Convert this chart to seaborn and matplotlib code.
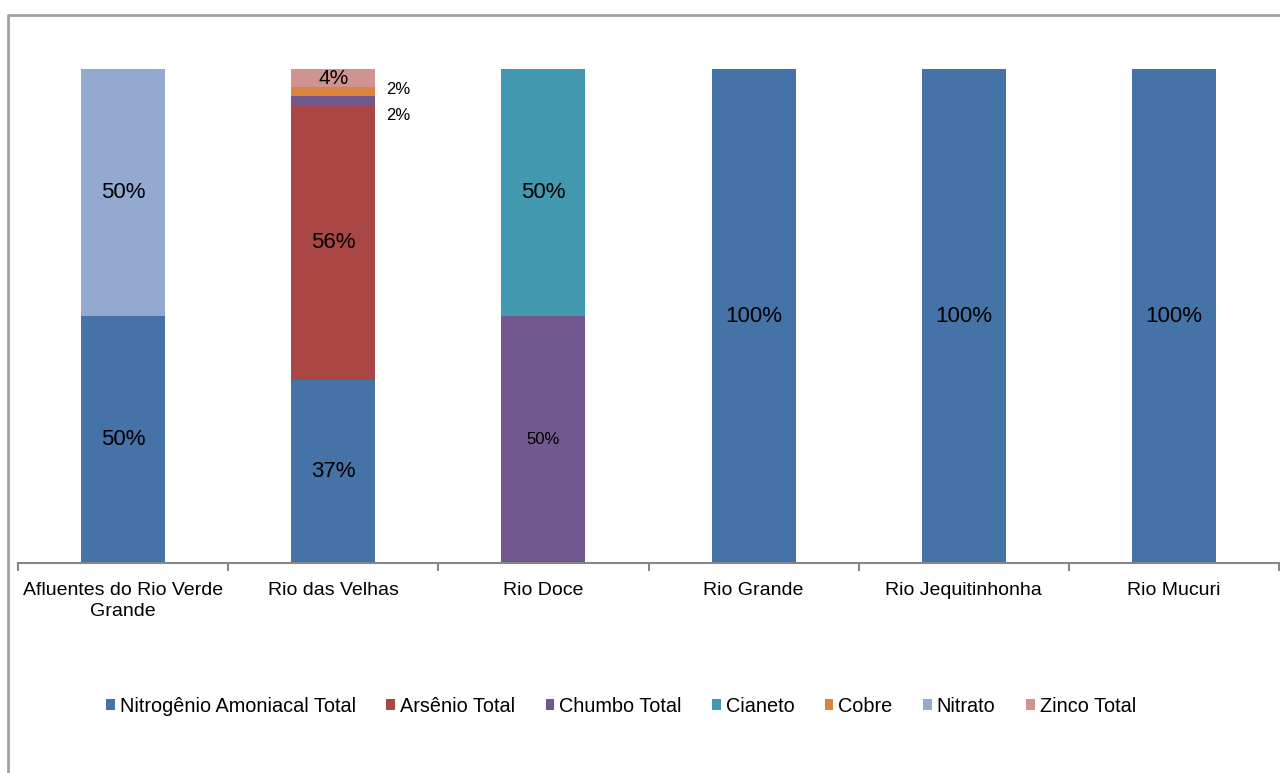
import matplotlib
matplotlib.use("Agg")
import matplotlib.pyplot as plt
from matplotlib.patches import Patch
from matplotlib.lines import Line2D
import numpy as np
import pandas as pd
import seaborn as sns

categories = ["Afluentes do Rio Verde\nGrande", "Rio das Velhas", "Rio Doce",
              "Rio Grande", "Rio Jequitinhonha", "Rio Mucuri"]
series_names = ["Nitrogênio Amoniacal Total", "Arsênio Total", "Chumbo Total",
                "Cianeto", "Cobre", "Nitrato", "Zinco Total"]
nitrogenio = [50, 37.0, 0, 100, 100, 100]
arsenio = [0, 55.6, 0, 0, 0, 0]
chumbo = [0, 1.85, 50, 0, 0, 0]
cianeto = [0, 0, 50, 0, 0, 0]
cobre = [0, 1.85, 0, 0, 0, 0]
nitrato = [50, 0, 0, 0, 0, 0]
zinco = [0, 3.7, 0, 0, 0, 0]
colors = ["#4572A7", "#AA4643", "#71588F", "#4198AF", "#DB843D", "#93A9CF", "#D19392"]

values = [nitrogenio, arsenio, chumbo, cianeto, cobre, nitrato, zinco]

sns.set_theme(style="white")
plt.rcParams["font.family"] = ["Liberation Sans", "DejaVu Sans"]
plt.rcParams["text.color"] = "black"
plt.rcParams["xtick.color"] = "black"

fig = plt.figure(figsize=(12.8, 7.73), dpi=100)
ax = fig.add_axes([18/1280, 1-563/773, (1279-18)/1280, (563-69)/773])

df = pd.DataFrame({"cat": categories})
cum = np.cumsum(np.array(values), axis=0)
for i in range(len(series_names) - 1, -1, -1):
    d = df.copy()
    d["v"] = cum[i]
    sns.barplot(data=d, x="cat", y="v", order=categories, color=colors[i],
                saturation=1, width=0.4, errorbar=None, linewidth=0, ax=ax)

# data labels
for i, name in enumerate(series_names):
    for j, cat in enumerate(categories):
        v = values[i][j]
        if v <= 0:
            continue
        bottom = cum[i][j] - v
        y = bottom + v / 2
        label = f"{v:.0f}%"
        if cat == "Rio das Velhas" and name in ("Chumbo Total", "Cobre"):
            ax.text(j + 0.25, y + (-3.0 if name == "Chumbo Total" else 0.5), label,
                    ha="left", va="center", fontsize=12, color="black")
        elif cat == "Rio Doce" and name == "Chumbo Total":
            ax.text(j, y, label, ha="center", va="center", fontsize=12, color="black")
        elif name == "Zinco Total":
            ax.text(j, y, label, ha="center", va="center", fontsize=15, color="black")
        else:
            ax.text(j, y, label, ha="center", va="center", fontsize=16, color="black")

ax.set_xlim(-0.5, len(categories) - 0.5)
ax.set_ylim(0, 100)
ax.set_xlabel("")
ax.set_ylabel("")
ax.set_yticks([])
for s in ["left", "right", "top"]:
    ax.spines[s].set_visible(False)
ax.spines["bottom"].set_color("#868686")
ax.spines["bottom"].set_linewidth(1.5)
ax.set_xticks(range(len(categories)))
ax.set_xticklabels(categories, fontsize=14, color="black", linespacing=1.3)
ax.set_xticks(np.arange(-0.5, len(categories), 1.0), minor=True)
ax.tick_params(axis="x", which="major", length=0, pad=14)
ax.tick_params(axis="x", which="minor", length=6, width=1.5, color="#868686", bottom=True)

handles = [Patch(facecolor=c, edgecolor="none") for c in colors]
leg = fig.legend(handles, series_names, loc="center", bbox_to_anchor=(621/1280, 1-706/773),
                 ncol=7, frameon=False, fontsize=14.3, handlelength=0.42, handleheight=0.42,
                 handletextpad=0.25, columnspacing=1.55, borderpad=0)
for t in leg.get_texts():
    t.set_color("black")

# chart area border (top and left visible)
fig.add_artist(Line2D([8/1280, 8/1280, 1.0], [0.0, 1-15/773, 1-15/773],
                      transform=fig.transFigure, color="#A0A0A0", linewidth=2))

fig.savefig("out.png", dpi=100)
